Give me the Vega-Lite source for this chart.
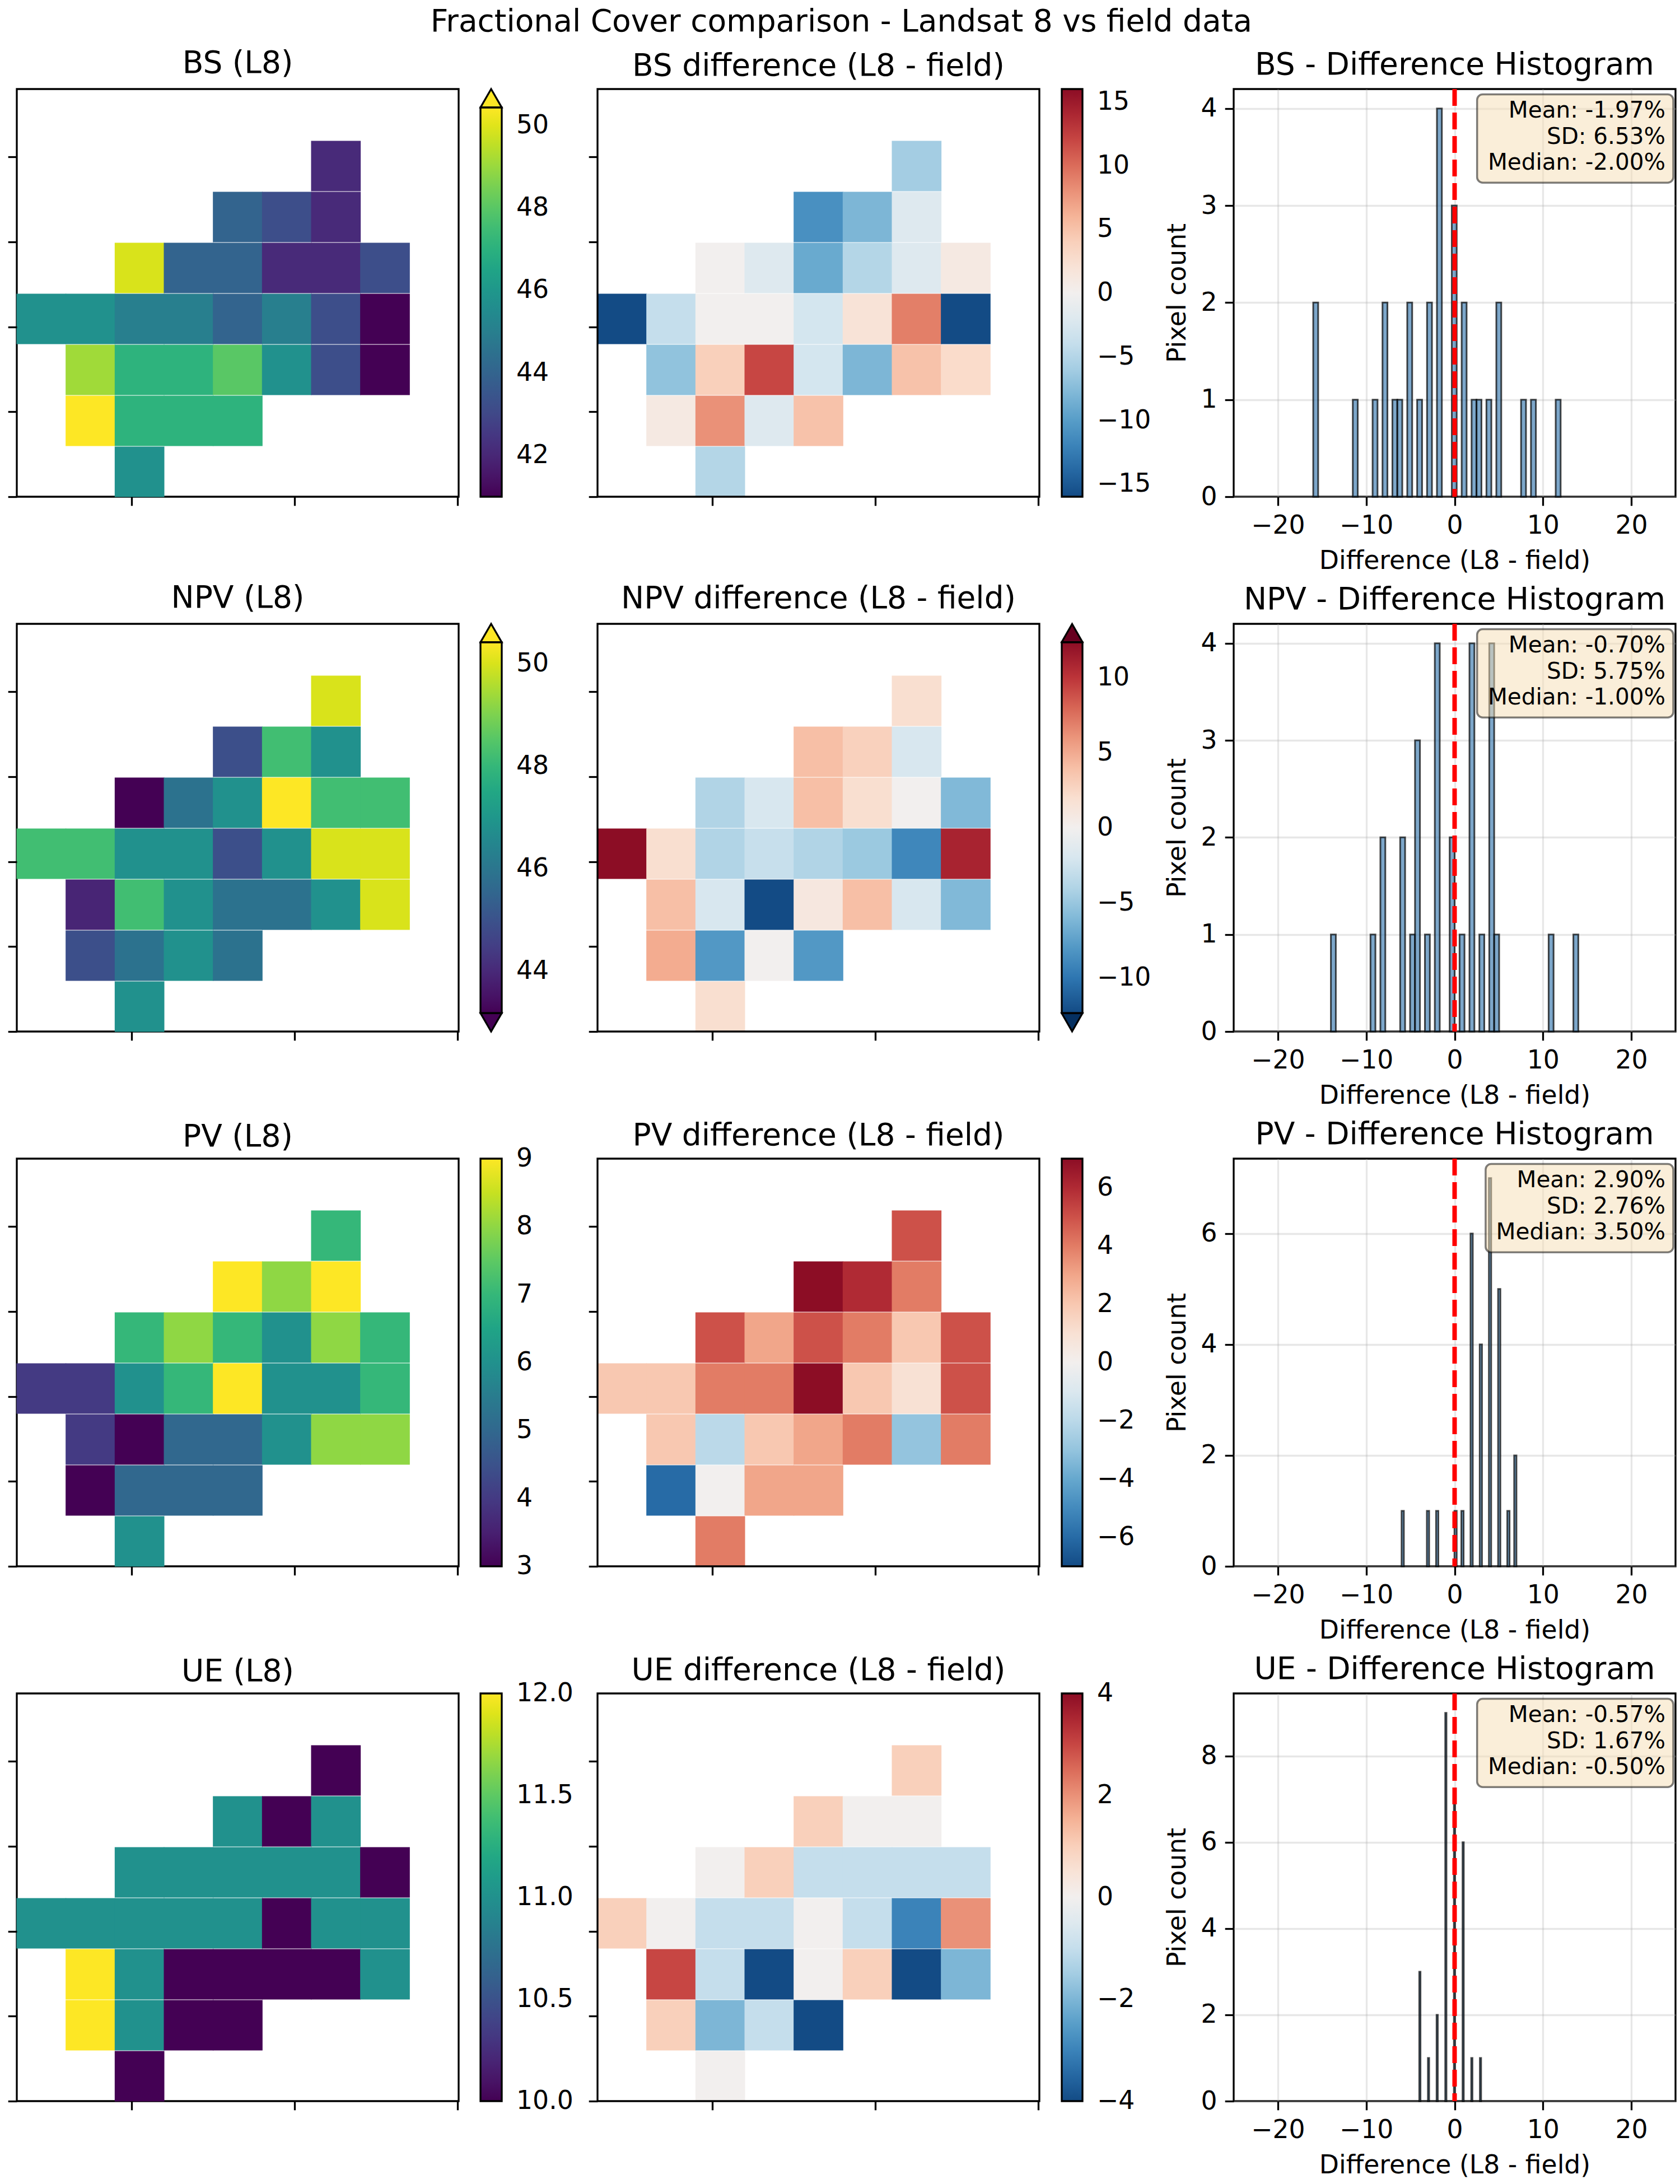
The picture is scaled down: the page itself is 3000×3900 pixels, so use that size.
{
  "$schema": "https://vega.github.io/schema/vega-lite/v6.json",
  "padding": {"left": 10, "top": 11, "right": 5, "bottom": 5},
  "title": {"text": "Fractional Cover comparison - Landsat 8 vs field data", "anchor": "middle", "fontSize": 55, "offset": 17},
  "datasets": {
    "cells": [
      {"v":"BS","r":1,"c":6,"l8":42.1,"d":-6},
      {"v":"BS","r":2,"c":4,"l8":44.0,"d":-11},
      {"v":"BS","r":2,"c":5,"l8":43.2,"d":-8},
      {"v":"BS","r":2,"c":6,"l8":42.1,"d":-2},
      {"v":"BS","r":3,"c":2,"l8":49.9,"d":0},
      {"v":"BS","r":3,"c":3,"l8":44.0,"d":-2},
      {"v":"BS","r":3,"c":4,"l8":44.0,"d":-9},
      {"v":"BS","r":3,"c":5,"l8":42.1,"d":-5},
      {"v":"BS","r":3,"c":6,"l8":42.1,"d":-2},
      {"v":"BS","r":3,"c":7,"l8":43.2,"d":1},
      {"v":"BS","r":4,"c":0,"l8":45.7,"d":-16},
      {"v":"BS","r":4,"c":1,"l8":45.7,"d":-4},
      {"v":"BS","r":4,"c":2,"l8":45.0,"d":0},
      {"v":"BS","r":4,"c":3,"l8":45.0,"d":0},
      {"v":"BS","r":4,"c":4,"l8":44.0,"d":-3},
      {"v":"BS","r":4,"c":5,"l8":45.0,"d":2},
      {"v":"BS","r":4,"c":6,"l8":43.2,"d":9},
      {"v":"BS","r":4,"c":7,"l8":41.0,"d":-16},
      {"v":"BS","r":5,"c":1,"l8":49.1,"d":-7},
      {"v":"BS","r":5,"c":2,"l8":47.1,"d":4},
      {"v":"BS","r":5,"c":3,"l8":47.1,"d":12},
      {"v":"BS","r":5,"c":4,"l8":48.0,"d":-3},
      {"v":"BS","r":5,"c":5,"l8":45.7,"d":-8},
      {"v":"BS","r":5,"c":6,"l8":43.2,"d":5},
      {"v":"BS","r":5,"c":7,"l8":41.0,"d":3},
      {"v":"BS","r":6,"c":1,"l8":50.5,"d":1},
      {"v":"BS","r":6,"c":2,"l8":47.1,"d":8},
      {"v":"BS","r":6,"c":3,"l8":47.1,"d":-2},
      {"v":"BS","r":6,"c":4,"l8":47.1,"d":5},
      {"v":"BS","r":7,"c":2,"l8":45.7,"d":-5},

      {"v":"NPV","r":1,"c":6,"l8":50.0,"d":2},
      {"v":"NPV","r":2,"c":4,"l8":44.9,"d":4},
      {"v":"NPV","r":2,"c":5,"l8":48.2,"d":3},
      {"v":"NPV","r":2,"c":6,"l8":46.8,"d":-2},
      {"v":"NPV","r":3,"c":2,"l8":43.0,"d":-4},
      {"v":"NPV","r":3,"c":3,"l8":45.9,"d":-2},
      {"v":"NPV","r":3,"c":4,"l8":46.8,"d":4},
      {"v":"NPV","r":3,"c":5,"l8":50.5,"d":2},
      {"v":"NPV","r":3,"c":6,"l8":48.2,"d":0},
      {"v":"NPV","r":3,"c":7,"l8":48.2,"d":-6},
      {"v":"NPV","r":4,"c":0,"l8":48.2,"d":14},
      {"v":"NPV","r":4,"c":1,"l8":48.2,"d":2},
      {"v":"NPV","r":4,"c":2,"l8":46.8,"d":-4},
      {"v":"NPV","r":4,"c":3,"l8":46.8,"d":-3},
      {"v":"NPV","r":4,"c":4,"l8":44.9,"d":-4},
      {"v":"NPV","r":4,"c":5,"l8":46.8,"d":-5},
      {"v":"NPV","r":4,"c":6,"l8":50.0,"d":-9},
      {"v":"NPV","r":4,"c":7,"l8":50.0,"d":11},
      {"v":"NPV","r":5,"c":1,"l8":43.9,"d":4},
      {"v":"NPV","r":5,"c":2,"l8":48.2,"d":-2},
      {"v":"NPV","r":5,"c":3,"l8":46.8,"d":-14},
      {"v":"NPV","r":5,"c":4,"l8":45.9,"d":1},
      {"v":"NPV","r":5,"c":5,"l8":45.9,"d":4},
      {"v":"NPV","r":5,"c":6,"l8":46.8,"d":-2},
      {"v":"NPV","r":5,"c":7,"l8":50.0,"d":-6},
      {"v":"NPV","r":6,"c":1,"l8":44.9,"d":5},
      {"v":"NPV","r":6,"c":2,"l8":45.9,"d":-8},
      {"v":"NPV","r":6,"c":3,"l8":46.8,"d":0},
      {"v":"NPV","r":6,"c":4,"l8":45.9,"d":-8},
      {"v":"NPV","r":7,"c":2,"l8":46.8,"d":2},

      {"v":"PV","r":1,"c":6,"l8":7,"d":5},
      {"v":"PV","r":2,"c":4,"l8":9,"d":7},
      {"v":"PV","r":2,"c":5,"l8":8,"d":6},
      {"v":"PV","r":2,"c":6,"l8":9,"d":4},
      {"v":"PV","r":3,"c":2,"l8":7,"d":5},
      {"v":"PV","r":3,"c":3,"l8":8,"d":3},
      {"v":"PV","r":3,"c":4,"l8":7,"d":5},
      {"v":"PV","r":3,"c":5,"l8":6,"d":4},
      {"v":"PV","r":3,"c":6,"l8":8,"d":2},
      {"v":"PV","r":3,"c":7,"l8":7,"d":5},
      {"v":"PV","r":4,"c":0,"l8":4,"d":2},
      {"v":"PV","r":4,"c":1,"l8":4,"d":2},
      {"v":"PV","r":4,"c":2,"l8":6,"d":4},
      {"v":"PV","r":4,"c":3,"l8":7,"d":4},
      {"v":"PV","r":4,"c":4,"l8":9,"d":7},
      {"v":"PV","r":4,"c":5,"l8":6,"d":2},
      {"v":"PV","r":4,"c":6,"l8":6,"d":1},
      {"v":"PV","r":4,"c":7,"l8":7,"d":5},
      {"v":"PV","r":5,"c":1,"l8":4,"d":2},
      {"v":"PV","r":5,"c":2,"l8":3,"d":-2},
      {"v":"PV","r":5,"c":3,"l8":5,"d":2},
      {"v":"PV","r":5,"c":4,"l8":5,"d":3},
      {"v":"PV","r":5,"c":5,"l8":6,"d":4},
      {"v":"PV","r":5,"c":6,"l8":8,"d":-3},
      {"v":"PV","r":5,"c":7,"l8":8,"d":4},
      {"v":"PV","r":6,"c":1,"l8":3,"d":-6},
      {"v":"PV","r":6,"c":2,"l8":5,"d":0},
      {"v":"PV","r":6,"c":3,"l8":5,"d":3},
      {"v":"PV","r":6,"c":4,"l8":5,"d":3},
      {"v":"PV","r":7,"c":2,"l8":6,"d":4},

      {"v":"UE","r":1,"c":6,"l8":10,"d":1},
      {"v":"UE","r":2,"c":4,"l8":11,"d":1},
      {"v":"UE","r":2,"c":5,"l8":10,"d":0},
      {"v":"UE","r":2,"c":6,"l8":11,"d":0},
      {"v":"UE","r":3,"c":2,"l8":11,"d":0},
      {"v":"UE","r":3,"c":3,"l8":11,"d":1},
      {"v":"UE","r":3,"c":4,"l8":11,"d":-1},
      {"v":"UE","r":3,"c":5,"l8":11,"d":-1},
      {"v":"UE","r":3,"c":6,"l8":11,"d":-1},
      {"v":"UE","r":3,"c":7,"l8":10,"d":-1},
      {"v":"UE","r":4,"c":0,"l8":11,"d":1},
      {"v":"UE","r":4,"c":1,"l8":11,"d":0},
      {"v":"UE","r":4,"c":2,"l8":11,"d":-1},
      {"v":"UE","r":4,"c":3,"l8":11,"d":-1},
      {"v":"UE","r":4,"c":4,"l8":11,"d":0},
      {"v":"UE","r":4,"c":5,"l8":10,"d":-1},
      {"v":"UE","r":4,"c":6,"l8":11,"d":-3},
      {"v":"UE","r":4,"c":7,"l8":11,"d":2},
      {"v":"UE","r":5,"c":1,"l8":12,"d":3},
      {"v":"UE","r":5,"c":2,"l8":11,"d":-1},
      {"v":"UE","r":5,"c":3,"l8":10,"d":-4},
      {"v":"UE","r":5,"c":4,"l8":10,"d":0},
      {"v":"UE","r":5,"c":5,"l8":10,"d":1},
      {"v":"UE","r":5,"c":6,"l8":10,"d":-4},
      {"v":"UE","r":5,"c":7,"l8":11,"d":-2},
      {"v":"UE","r":6,"c":1,"l8":12,"d":1},
      {"v":"UE","r":6,"c":2,"l8":11,"d":-2},
      {"v":"UE","r":6,"c":3,"l8":10,"d":-1},
      {"v":"UE","r":6,"c":4,"l8":10,"d":-4},
      {"v":"UE","r":7,"c":2,"l8":10,"d":0}
    ],
    "hist": [
      {"v":"BS","x0":-16,"x1":-15.44,"n":2},
      {"v":"BS","x0":-11.52,"x1":-10.96,"n":1},
      {"v":"BS","x0":-9.28,"x1":-8.72,"n":1},
      {"v":"BS","x0":-8.16,"x1":-7.6,"n":2},
      {"v":"BS","x0":-7.04,"x1":-6.48,"n":1},
      {"v":"BS","x0":-6.48,"x1":-5.92,"n":1},
      {"v":"BS","x0":-5.36,"x1":-4.8,"n":2},
      {"v":"BS","x0":-4.24,"x1":-3.68,"n":1},
      {"v":"BS","x0":-3.12,"x1":-2.56,"n":2},
      {"v":"BS","x0":-2.0,"x1":-1.44,"n":4},
      {"v":"BS","x0":-0.32,"x1":0.24,"n":3},
      {"v":"BS","x0":0.8,"x1":1.36,"n":2},
      {"v":"BS","x0":1.92,"x1":2.48,"n":1},
      {"v":"BS","x0":2.48,"x1":3.04,"n":1},
      {"v":"BS","x0":3.6,"x1":4.16,"n":1},
      {"v":"BS","x0":4.72,"x1":5.28,"n":2},
      {"v":"BS","x0":7.52,"x1":8.08,"n":1},
      {"v":"BS","x0":8.64,"x1":9.2,"n":1},
      {"v":"BS","x0":11.44,"x1":12.0,"n":1},

      {"v":"NPV","x0":-14,"x1":-13.44,"n":1},
      {"v":"NPV","x0":-9.52,"x1":-8.96,"n":1},
      {"v":"NPV","x0":-8.4,"x1":-7.84,"n":2},
      {"v":"NPV","x0":-6.16,"x1":-5.6,"n":2},
      {"v":"NPV","x0":-5.04,"x1":-4.48,"n":1},
      {"v":"NPV","x0":-4.48,"x1":-3.92,"n":3},
      {"v":"NPV","x0":-3.36,"x1":-2.8,"n":1},
      {"v":"NPV","x0":-2.24,"x1":-1.68,"n":4},
      {"v":"NPV","x0":-0.56,"x1":0.0,"n":2},
      {"v":"NPV","x0":0.56,"x1":1.12,"n":1},
      {"v":"NPV","x0":1.68,"x1":2.24,"n":4},
      {"v":"NPV","x0":2.8,"x1":3.36,"n":1},
      {"v":"NPV","x0":3.92,"x1":4.48,"n":4},
      {"v":"NPV","x0":4.48,"x1":5.04,"n":1},
      {"v":"NPV","x0":10.64,"x1":11.2,"n":1},
      {"v":"NPV","x0":13.44,"x1":14.0,"n":1},

      {"v":"PV","x0":-6.0,"x1":-5.74,"n":1},
      {"v":"PV","x0":-3.14,"x1":-2.88,"n":1},
      {"v":"PV","x0":-2.1,"x1":-1.84,"n":1},
      {"v":"PV","x0":-0.02,"x1":0.24,"n":1},
      {"v":"PV","x0":0.76,"x1":1.02,"n":1},
      {"v":"PV","x0":1.8,"x1":2.06,"n":6},
      {"v":"PV","x0":2.84,"x1":3.1,"n":4},
      {"v":"PV","x0":3.88,"x1":4.14,"n":7},
      {"v":"PV","x0":4.92,"x1":5.18,"n":5},
      {"v":"PV","x0":5.96,"x1":6.22,"n":1},
      {"v":"PV","x0":6.74,"x1":7.0,"n":2},

      {"v":"UE","x0":-4.0,"x1":-3.86,"n":3},
      {"v":"UE","x0":-3.02,"x1":-2.88,"n":1},
      {"v":"UE","x0":-2.04,"x1":-1.9,"n":2},
      {"v":"UE","x0":-1.06,"x1":-0.92,"n":9},
      {"v":"UE","x0":-0.08,"x1":0.06,"n":7},
      {"v":"UE","x0":0.9,"x1":1.04,"n":6},
      {"v":"UE","x0":1.88,"x1":2.02,"n":1},
      {"v":"UE","x0":2.86,"x1":3.0,"n":1}
    ]
  },
  "bounds": "flush",
  "columns": 3,
  "spacing": {"row": 227, "column": 248},
  "resolve": {"scale": {"color": "independent"}, "legend": {"color": "independent"}},
  "concat": [
    {
      "width": 789, "height": 728,
      "title": {"text": "BS (L8)", "frame": "group"},
      "layer": [
        {
          "data": {"name": "cells"},
          "transform": [{"filter": {"field": "v", "equal": "BS"}}],
          "mark": {"type": "rect", "strokeWidth": 0, "binSpacing": 0, "x2Offset": -1, "y2Offset": -1},
          "encoding": {
            "x": {"field": "c", "type": "quantitative", "bin": {"binned": true, "step": 1}, "scale": {"domain": [0, 9], "nice": false, "zero": false}, "axis": {"values": [2.34, 5.66, 8.98], "labels": false, "grid": false, "title": null}},
            "y": {"field": "r", "type": "quantitative", "bin": {"binned": true, "step": 1}, "scale": {"domain": [0, 8], "reverse": true, "nice": false, "zero": false}, "axis": {"values": [1.33, 3, 4.67, 6.33, 8], "labels": false, "grid": false, "title": null}},
            "color": {"field": "l8", "type": "quantitative", "scale": {"scheme": "viridis", "domain": [41, 50.43], "clamp": true, "nice": false, "zero": false},
              "legend": {"orient": "none", "legendX": 828, "legendY": 33, "direction": "vertical", "gradientLength": 695, "gradientThickness": 38, "values": [42, 44, 46, 48, 50], "format": "d", "title": null, "labelOffset": 26, "padding": 0, "encode": {"labels": {"update": {"baseline": {"value": "middle"}}}}}}
          }
        },
        {"data": {"values": [{}]}, "mark": {"type": "point", "shape": "M-1,0.868L1,0.868L0,-0.868Z", "size": 1444, "filled": true, "fill": "#fde725", "stroke": "black", "strokeWidth": 3.3, "opacity": 1}, "encoding": {"x": {"datum": 9.6616}, "y": {"datum": 0.181}}}
      ]
    },
    {
      "width": 888, "height": 728,
      "view": {"stroke": null},
      "title": {"text": "BS difference (L8 - field)", "frame": "group", "dx": -49.5},
      "layer": [
        {
          "data": {"name": "cells"},
          "transform": [{"filter": {"field": "v", "equal": "BS"}}],
          "mark": {"type": "rect", "strokeWidth": 0, "binSpacing": 0, "x2Offset": -1, "y2Offset": -1},
          "encoding": {
            "x": {"field": "c", "type": "quantitative", "bin": {"binned": true, "step": 1}, "scale": {"domain": [0, 10.1293], "nice": false, "zero": false}, "axis": {"values": [2.34, 5.66, 8.98], "labels": false, "grid": false, "title": null}},
            "y": {"field": "r", "type": "quantitative", "bin": {"binned": true, "step": 1}, "scale": {"domain": [0, 8], "reverse": true, "nice": false, "zero": false}, "axis": {"values": [1.33, 3, 4.67, 6.33, 8], "labels": false, "grid": false, "title": null}},
            "color": {"field": "d", "type": "quantitative", "scale": {"scheme": {"name": "redblue", "extent": [1, 0]}, "domain": [-16, 16], "clamp": true, "nice": false, "zero": false},
              "legend": {"orient": "none", "legendX": 829, "legendY": 0, "direction": "vertical", "gradientLength": 728, "gradientThickness": 37, "values": [-15, -10, -5, 0, 5, 10, 15], "format": "d", "title": null, "labelOffset": 26, "padding": 0, "encode": {"labels": {"update": {"baseline": {"value": "middle"}}}}}}
          }
        },
        {"data": {"values": [{}]}, "mark": {"type": "rect", "fillOpacity": 0, "stroke": "black", "strokeWidth": 3.3}, "encoding": {"x": {"datum": 0}, "x2": {"datum": 9}, "y": {"datum": 0}, "y2": {"datum": 8}}}
      ]
    },
    {
      "width": 789, "height": 728,
      "title": {"text": "BS - Difference Histogram", "frame": "group"},
      "layer": [
        {
          "data": {"name": "hist"},
          "transform": [{"filter": {"field": "v", "equal": "BS"}}],
          "mark": {"type": "rect", "fill": "steelblue", "fillOpacity": 0.7, "stroke": "black", "strokeOpacity": 0.7, "strokeWidth": 3},
          "encoding": {
            "x": {"field": "x0", "type": "quantitative", "scale": {"domain": [-25, 25], "nice": false, "zero": false}, "axis": {"values": [-20, -10, 0, 10, 20], "format": "d", "title": "Difference (L8 - field)", "grid": true}},
            "x2": {"field": "x1"},
            "y": {"field": "n", "type": "quantitative", "scale": {"domain": [0, 4.2], "nice": false}, "axis": {"values": [0, 1, 2, 3, 4], "format": "d", "title": "Pixel count", "grid": true}},
            "y2": {"datum": 0}
          }
        },
        {"data": {"values": [{}]}, "mark": {"type": "rule", "color": "red", "strokeWidth": 8, "strokeDash": [30, 12]}, "encoding": {"x": {"datum": 0}}},
        {"data": {"values": [{}]}, "mark": {"type": "rect", "fill": "#f5deb3", "fillOpacity": 0.5, "stroke": "black", "strokeOpacity": 0.5, "strokeWidth": 3.5, "cornerRadius": 10}, "encoding": {"x": {"datum": 2.546}, "x2": {"datum": 24.75}, "y": {"datum": 4.145}, "y2": {"datum": 3.235}}},
        {"data": {"values": [{}]}, "mark": {"type": "text", "align": "right", "baseline": "alphabetic", "fontSize": 40.5, "lineHeight": 46.5, "font": "DejaVu Sans", "color": "black", "text": ["Mean: -1.97%", "SD: 6.53%", "Median: -2.00%"]}, "encoding": {"x": {"datum": 23.86}, "y": {"datum": 3.905}}}
      ]
    },
    {
      "width": 789, "height": 728,
      "title": {"text": "NPV (L8)", "frame": "group"},
      "layer": [
        {
          "data": {"name": "cells"},
          "transform": [{"filter": {"field": "v", "equal": "NPV"}}],
          "mark": {"type": "rect", "strokeWidth": 0, "binSpacing": 0, "x2Offset": -1, "y2Offset": -1},
          "encoding": {
            "x": {"field": "c", "type": "quantitative", "bin": {"binned": true, "step": 1}, "scale": {"domain": [0, 9], "nice": false, "zero": false}, "axis": {"values": [2.34, 5.66, 8.98], "labels": false, "grid": false, "title": null}},
            "y": {"field": "r", "type": "quantitative", "bin": {"binned": true, "step": 1}, "scale": {"domain": [0, 8], "reverse": true, "nice": false, "zero": false}, "axis": {"values": [1.33, 3, 4.67, 6.33, 8], "labels": false, "grid": false, "title": null}},
            "color": {"field": "l8", "type": "quantitative", "scale": {"scheme": "viridis", "domain": [43.18, 50.41], "clamp": true, "nice": false, "zero": false},
              "legend": {"orient": "none", "legendX": 828, "legendY": 33, "direction": "vertical", "gradientLength": 662, "gradientThickness": 38, "values": [44, 46, 48, 50], "format": "d", "title": null, "labelOffset": 26, "padding": 0, "encode": {"labels": {"update": {"baseline": {"value": "middle"}}}}}}
          }
        },
        {"data": {"values": [{}]}, "mark": {"type": "point", "shape": "M-1,0.868L1,0.868L0,-0.868Z", "size": 1444, "filled": true, "fill": "#fde725", "stroke": "black", "strokeWidth": 3.3, "opacity": 1}, "encoding": {"x": {"datum": 9.6616}, "y": {"datum": 0.181}}},
        {"data": {"values": [{}]}, "mark": {"type": "point", "shape": "M-1,-0.868L1,-0.868L0,0.868Z", "size": 1444, "filled": true, "fill": "#440154", "stroke": "black", "strokeWidth": 3.3, "opacity": 1}, "encoding": {"x": {"datum": 9.6616}, "y": {"datum": 7.819}}}
      ]
    },
    {
      "width": 888, "height": 728,
      "view": {"stroke": null},
      "title": {"text": "NPV difference (L8 - field)", "frame": "group", "dx": -49.5},
      "layer": [
        {
          "data": {"name": "cells"},
          "transform": [{"filter": {"field": "v", "equal": "NPV"}}],
          "mark": {"type": "rect", "strokeWidth": 0, "binSpacing": 0, "x2Offset": -1, "y2Offset": -1},
          "encoding": {
            "x": {"field": "c", "type": "quantitative", "bin": {"binned": true, "step": 1}, "scale": {"domain": [0, 10.1293], "nice": false, "zero": false}, "axis": {"values": [2.34, 5.66, 8.98], "labels": false, "grid": false, "title": null}},
            "y": {"field": "r", "type": "quantitative", "bin": {"binned": true, "step": 1}, "scale": {"domain": [0, 8], "reverse": true, "nice": false, "zero": false}, "axis": {"values": [1.33, 3, 4.67, 6.33, 8], "labels": false, "grid": false, "title": null}},
            "color": {"field": "d", "type": "quantitative", "scale": {"scheme": {"name": "redblue", "extent": [1, 0]}, "domain": [-12.34, 12.34], "clamp": true, "nice": false, "zero": false},
              "legend": {"orient": "none", "legendX": 829, "legendY": 33, "direction": "vertical", "gradientLength": 662, "gradientThickness": 37, "values": [-10, -5, 0, 5, 10], "format": "d", "title": null, "labelOffset": 26, "padding": 0, "encode": {"labels": {"update": {"baseline": {"value": "middle"}}}}}}
          }
        },
        {"data": {"values": [{}]}, "mark": {"type": "rect", "fillOpacity": 0, "stroke": "black", "strokeWidth": 3.3}, "encoding": {"x": {"datum": 0}, "x2": {"datum": 9}, "y": {"datum": 0}, "y2": {"datum": 8}}},
        {"data": {"values": [{}]}, "mark": {"type": "point", "shape": "M-1,0.868L1,0.868L0,-0.868Z", "size": 1369, "filled": true, "fill": "#67001f", "stroke": "black", "strokeWidth": 3.3, "opacity": 1}, "encoding": {"x": {"datum": 9.667}, "y": {"datum": 0.181}}},
        {"data": {"values": [{}]}, "mark": {"type": "point", "shape": "M-1,-0.868L1,-0.868L0,0.868Z", "size": 1369, "filled": true, "fill": "#053061", "stroke": "black", "strokeWidth": 3.3, "opacity": 1}, "encoding": {"x": {"datum": 9.667}, "y": {"datum": 7.819}}}
      ]
    },
    {
      "width": 789, "height": 728,
      "title": {"text": "NPV - Difference Histogram", "frame": "group"},
      "layer": [
        {
          "data": {"name": "hist"},
          "transform": [{"filter": {"field": "v", "equal": "NPV"}}],
          "mark": {"type": "rect", "fill": "steelblue", "fillOpacity": 0.7, "stroke": "black", "strokeOpacity": 0.7, "strokeWidth": 3},
          "encoding": {
            "x": {"field": "x0", "type": "quantitative", "scale": {"domain": [-25, 25], "nice": false, "zero": false}, "axis": {"values": [-20, -10, 0, 10, 20], "format": "d", "title": "Difference (L8 - field)", "grid": true}},
            "x2": {"field": "x1"},
            "y": {"field": "n", "type": "quantitative", "scale": {"domain": [0, 4.2], "nice": false}, "axis": {"values": [0, 1, 2, 3, 4], "format": "d", "title": "Pixel count", "grid": true}},
            "y2": {"datum": 0}
          }
        },
        {"data": {"values": [{}]}, "mark": {"type": "rule", "color": "red", "strokeWidth": 8, "strokeDash": [30, 12]}, "encoding": {"x": {"datum": 0}}},
        {"data": {"values": [{}]}, "mark": {"type": "rect", "fill": "#f5deb3", "fillOpacity": 0.5, "stroke": "black", "strokeOpacity": 0.5, "strokeWidth": 3.5, "cornerRadius": 10}, "encoding": {"x": {"datum": 2.546}, "x2": {"datum": 24.75}, "y": {"datum": 4.145}, "y2": {"datum": 3.235}}},
        {"data": {"values": [{}]}, "mark": {"type": "text", "align": "right", "baseline": "alphabetic", "fontSize": 40.5, "lineHeight": 46.5, "font": "DejaVu Sans", "color": "black", "text": ["Mean: -0.70%", "SD: 5.75%", "Median: -1.00%"]}, "encoding": {"x": {"datum": 23.86}, "y": {"datum": 3.905}}}
      ]
    },
    {
      "width": 789, "height": 728,
      "title": {"text": "PV (L8)", "frame": "group"},
      "data": {"name": "cells"},
      "transform": [{"filter": {"field": "v", "equal": "PV"}}],
      "mark": {"type": "rect", "strokeWidth": 0, "binSpacing": 0, "x2Offset": -1, "y2Offset": -1},
      "encoding": {
        "x": {"field": "c", "type": "quantitative", "bin": {"binned": true, "step": 1}, "scale": {"domain": [0, 9], "nice": false, "zero": false}, "axis": {"values": [2.34, 5.66, 8.98], "labels": false, "grid": false, "title": null}},
        "y": {"field": "r", "type": "quantitative", "bin": {"binned": true, "step": 1}, "scale": {"domain": [0, 8], "reverse": true, "nice": false, "zero": false}, "axis": {"values": [1.33, 3, 4.67, 6.33, 8], "labels": false, "grid": false, "title": null}},
        "color": {"field": "l8", "type": "quantitative", "scale": {"scheme": "viridis", "domain": [3, 9], "clamp": true, "nice": false, "zero": false},
          "legend": {"orient": "none", "legendX": 828, "legendY": 0, "direction": "vertical", "gradientLength": 728, "gradientThickness": 38, "values": [3, 4, 5, 6, 7, 8, 9], "format": "d", "title": null, "labelOffset": 26, "padding": 0, "encode": {"labels": {"update": {"baseline": {"value": "middle"}}}}}}
      }
    },
    {
      "width": 888, "height": 728,
      "view": {"stroke": null},
      "title": {"text": "PV difference (L8 - field)", "frame": "group", "dx": -49.5},
      "layer": [
        {
          "data": {"name": "cells"},
          "transform": [{"filter": {"field": "v", "equal": "PV"}}],
          "mark": {"type": "rect", "strokeWidth": 0, "binSpacing": 0, "x2Offset": -1, "y2Offset": -1},
          "encoding": {
            "x": {"field": "c", "type": "quantitative", "bin": {"binned": true, "step": 1}, "scale": {"domain": [0, 10.1293], "nice": false, "zero": false}, "axis": {"values": [2.34, 5.66, 8.98], "labels": false, "grid": false, "title": null}},
            "y": {"field": "r", "type": "quantitative", "bin": {"binned": true, "step": 1}, "scale": {"domain": [0, 8], "reverse": true, "nice": false, "zero": false}, "axis": {"values": [1.33, 3, 4.67, 6.33, 8], "labels": false, "grid": false, "title": null}},
            "color": {"field": "d", "type": "quantitative", "scale": {"scheme": {"name": "redblue", "extent": [1, 0]}, "domain": [-7, 7], "clamp": true, "nice": false, "zero": false},
              "legend": {"orient": "none", "legendX": 829, "legendY": 0, "direction": "vertical", "gradientLength": 728, "gradientThickness": 37, "values": [-6, -4, -2, 0, 2, 4, 6], "format": "d", "title": null, "labelOffset": 26, "padding": 0, "encode": {"labels": {"update": {"baseline": {"value": "middle"}}}}}}
          }
        },
        {"data": {"values": [{}]}, "mark": {"type": "rect", "fillOpacity": 0, "stroke": "black", "strokeWidth": 3.3}, "encoding": {"x": {"datum": 0}, "x2": {"datum": 9}, "y": {"datum": 0}, "y2": {"datum": 8}}}
      ]
    },
    {
      "width": 789, "height": 728,
      "title": {"text": "PV - Difference Histogram", "frame": "group"},
      "layer": [
        {
          "data": {"name": "hist"},
          "transform": [{"filter": {"field": "v", "equal": "PV"}}],
          "mark": {"type": "rect", "fill": "steelblue", "fillOpacity": 0.7, "stroke": "black", "strokeOpacity": 0.7, "strokeWidth": 3},
          "encoding": {
            "x": {"field": "x0", "type": "quantitative", "scale": {"domain": [-25, 25], "nice": false, "zero": false}, "axis": {"values": [-20, -10, 0, 10, 20], "format": "d", "title": "Difference (L8 - field)", "grid": true}},
            "x2": {"field": "x1"},
            "y": {"field": "n", "type": "quantitative", "scale": {"domain": [0, 7.35], "nice": false}, "axis": {"values": [0, 2, 4, 6], "format": "d", "title": "Pixel count", "grid": true}},
            "y2": {"datum": 0}
          }
        },
        {"data": {"values": [{}]}, "mark": {"type": "rule", "color": "red", "strokeWidth": 8, "strokeDash": [30, 12]}, "encoding": {"x": {"datum": 0}}},
        {"data": {"values": [{}]}, "mark": {"type": "rect", "fill": "#f5deb3", "fillOpacity": 0.5, "stroke": "black", "strokeOpacity": 0.5, "strokeWidth": 3.5, "cornerRadius": 10}, "encoding": {"x": {"datum": 3.51}, "x2": {"datum": 24.75}, "y": {"datum": 7.254}, "y2": {"datum": 5.661}}},
        {"data": {"values": [{}]}, "mark": {"type": "text", "align": "right", "baseline": "alphabetic", "fontSize": 40.5, "lineHeight": 46.5, "font": "DejaVu Sans", "color": "black", "text": ["Mean: 2.90%", "SD: 2.76%", "Median: 3.50%"]}, "encoding": {"x": {"datum": 23.86}, "y": {"datum": 6.834}}}
      ]
    },
    {
      "width": 789, "height": 728,
      "title": {"text": "UE (L8)", "frame": "group"},
      "data": {"name": "cells"},
      "transform": [{"filter": {"field": "v", "equal": "UE"}}],
      "mark": {"type": "rect", "strokeWidth": 0, "binSpacing": 0, "x2Offset": -1, "y2Offset": -1},
      "encoding": {
        "x": {"field": "c", "type": "quantitative", "bin": {"binned": true, "step": 1}, "scale": {"domain": [0, 9], "nice": false, "zero": false}, "axis": {"values": [2.34, 5.66, 8.98], "labels": false, "grid": false, "title": null}},
        "y": {"field": "r", "type": "quantitative", "bin": {"binned": true, "step": 1}, "scale": {"domain": [0, 8], "reverse": true, "nice": false, "zero": false}, "axis": {"values": [1.33, 3, 4.67, 6.33, 8], "labels": false, "grid": false, "title": null}},
        "color": {"field": "l8", "type": "quantitative", "scale": {"scheme": "viridis", "domain": [10, 12], "clamp": true, "nice": false, "zero": false},
          "legend": {"orient": "none", "legendX": 828, "legendY": 0, "direction": "vertical", "gradientLength": 728, "gradientThickness": 38, "values": [10, 10.5, 11, 11.5, 12], "format": ".1f", "title": null, "labelOffset": 26, "padding": 0, "encode": {"labels": {"update": {"baseline": {"value": "middle"}}}}}}
      }
    },
    {
      "width": 888, "height": 728,
      "view": {"stroke": null},
      "title": {"text": "UE difference (L8 - field)", "frame": "group", "dx": -49.5},
      "layer": [
        {
          "data": {"name": "cells"},
          "transform": [{"filter": {"field": "v", "equal": "UE"}}],
          "mark": {"type": "rect", "strokeWidth": 0, "binSpacing": 0, "x2Offset": -1, "y2Offset": -1},
          "encoding": {
            "x": {"field": "c", "type": "quantitative", "bin": {"binned": true, "step": 1}, "scale": {"domain": [0, 10.1293], "nice": false, "zero": false}, "axis": {"values": [2.34, 5.66, 8.98], "labels": false, "grid": false, "title": null}},
            "y": {"field": "r", "type": "quantitative", "bin": {"binned": true, "step": 1}, "scale": {"domain": [0, 8], "reverse": true, "nice": false, "zero": false}, "axis": {"values": [1.33, 3, 4.67, 6.33, 8], "labels": false, "grid": false, "title": null}},
            "color": {"field": "d", "type": "quantitative", "scale": {"scheme": {"name": "redblue", "extent": [1, 0]}, "domain": [-4, 4], "clamp": true, "nice": false, "zero": false},
              "legend": {"orient": "none", "legendX": 829, "legendY": 0, "direction": "vertical", "gradientLength": 728, "gradientThickness": 37, "values": [-4, -2, 0, 2, 4], "format": "d", "title": null, "labelOffset": 26, "padding": 0, "encode": {"labels": {"update": {"baseline": {"value": "middle"}}}}}}
          }
        },
        {"data": {"values": [{}]}, "mark": {"type": "rect", "fillOpacity": 0, "stroke": "black", "strokeWidth": 3.3}, "encoding": {"x": {"datum": 0}, "x2": {"datum": 9}, "y": {"datum": 0}, "y2": {"datum": 8}}}
      ]
    },
    {
      "width": 789, "height": 728,
      "title": {"text": "UE - Difference Histogram", "frame": "group"},
      "layer": [
        {
          "data": {"name": "hist"},
          "transform": [{"filter": {"field": "v", "equal": "UE"}}],
          "mark": {"type": "rect", "fill": "steelblue", "fillOpacity": 0.7, "stroke": "black", "strokeOpacity": 0.7, "strokeWidth": 3},
          "encoding": {
            "x": {"field": "x0", "type": "quantitative", "scale": {"domain": [-25, 25], "nice": false, "zero": false}, "axis": {"values": [-20, -10, 0, 10, 20], "format": "d", "title": "Difference (L8 - field)", "grid": true}},
            "x2": {"field": "x1"},
            "y": {"field": "n", "type": "quantitative", "scale": {"domain": [0, 9.45], "nice": false}, "axis": {"values": [0, 2, 4, 6, 8], "format": "d", "title": "Pixel count", "grid": true}},
            "y2": {"datum": 0}
          }
        },
        {"data": {"values": [{}]}, "mark": {"type": "rule", "color": "red", "strokeWidth": 8, "strokeDash": [30, 12]}, "encoding": {"x": {"datum": 0}}},
        {"data": {"values": [{}]}, "mark": {"type": "rect", "fill": "#f5deb3", "fillOpacity": 0.5, "stroke": "black", "strokeOpacity": 0.5, "strokeWidth": 3.5, "cornerRadius": 10}, "encoding": {"x": {"datum": 2.546}, "x2": {"datum": 24.75}, "y": {"datum": 9.327}, "y2": {"datum": 7.279}}},
        {"data": {"values": [{}]}, "mark": {"type": "text", "align": "right", "baseline": "alphabetic", "fontSize": 40.5, "lineHeight": 46.5, "font": "DejaVu Sans", "color": "black", "text": ["Mean: -0.57%", "SD: 1.67%", "Median: -0.50%"]}, "encoding": {"x": {"datum": 23.86}, "y": {"datum": 8.787}}}
      ]
    }
  ],
  "config": {
    "font": "DejaVu Sans",
    "view": {"stroke": "black", "strokeWidth": 3.3},
    "axis": {"labelFont": "DejaVu Sans", "titleFont": "DejaVu Sans", "labelFontSize": 45.7, "titleFontSize": 45.7, "titleFontWeight": "normal", "labelColor": "black", "titleColor": "black", "tickColor": "black", "tickSize": 15.8, "tickWidth": 3.3, "labelPadding": 14, "domain": false, "titlePadding": 18, "gridColor": "#b0b0b0", "gridOpacity": 0.3, "gridWidth": 3.3},
    "legend": {"labelFont": "DejaVu Sans", "labelFontSize": 45.7, "labelColor": "black", "gradientStrokeColor": "black", "gradientStrokeWidth": 3.3, "padding": 0},
    "title": {"font": "DejaVu Sans", "fontSize": 55, "fontWeight": "normal", "color": "black", "offset": 10, "baseline": "alphabetic"}
  }
}
